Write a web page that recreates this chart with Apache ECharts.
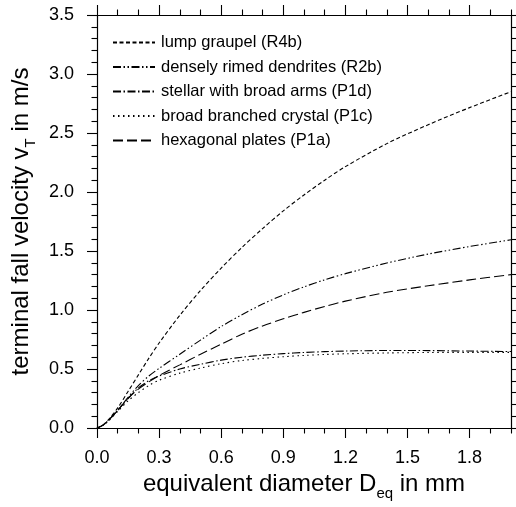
<!DOCTYPE html>
<html>
<head>
<meta charset="utf-8">
<script src="https://cdn.jsdelivr.net/npm/echarts@6/dist/echarts.min.js"></script>
<style>
html,body{margin:0;padding:0;background:#fff;}
#c{width:516px;height:507px;}
</style>
</head>
<body>
<div id="c"></div>
<script>
// Equivalent diameter (mm)
const diameters = [0, 0.025, 0.05, 0.1, 0.15, 0.2, 0.25, 0.3, 0.4, 0.5, 0.6, 0.7, 0.8, 0.9, 1.0, 1.1, 1.2, 1.4, 1.6, 1.8, 2.0];
// Terminal fall velocity (m/s)
const lumpGraupel   = [0, 0.02, 0.06, 0.17, 0.31, 0.45, 0.59, 0.72, 0.955, 1.165, 1.355, 1.53, 1.69, 1.84, 1.975, 2.10, 2.215, 2.41, 2.57, 2.715, 2.85];
const denselyRimed  = [0, 0.02, 0.055, 0.15, 0.26, 0.36, 0.44, 0.505, 0.625, 0.745, 0.86, 0.96, 1.05, 1.128, 1.196, 1.256, 1.308, 1.398, 1.474, 1.538, 1.595];
const stellarArms   = [0, 0.02, 0.055, 0.15, 0.25, 0.34, 0.40, 0.44, 0.50, 0.54, 0.575, 0.60, 0.617, 0.63, 0.64, 0.647, 0.652, 0.657, 0.656, 0.652, 0.648];
const broadBranched = [0, 0.02, 0.05, 0.14, 0.23, 0.30, 0.36, 0.405, 0.465, 0.508, 0.545, 0.572, 0.59, 0.604, 0.615, 0.623, 0.629, 0.636, 0.64, 0.641, 0.641];
const hexPlates     = [0, 0.02, 0.055, 0.15, 0.25, 0.33, 0.39, 0.445, 0.535, 0.625, 0.71, 0.795, 0.865, 0.925, 0.98, 1.03, 1.075, 1.15, 1.205, 1.255, 1.30];

const seriesNames = [
  'lump graupel (R4b)',
  'densely rimed dendrites (R2b)',
  'stellar with broad arms (P1d)',
  'broad branched crystal (P1c)',
  'hexagonal plates (P1a)'
];

// Tick values
const xMajorTicks = [0, 0.3, 0.6, 0.9, 1.2, 1.5, 1.8];
const xMinorTicks = [0.1, 0.2, 0.4, 0.5, 0.7, 0.8, 1.0, 1.1, 1.3, 1.4, 1.6, 1.7, 1.9, 2.0];
const yMajorTicks = [0, 0.5, 1.0, 1.5, 2.0, 2.5, 3.0, 3.5];
const yMinorTicks = [0.1,0.2,0.3,0.4,0.6,0.7,0.8,0.9,1.1,1.2,1.3,1.4,1.6,1.7,1.8,1.9,2.1,2.2,2.3,2.4,2.6,2.7,2.8,2.9,3.1,3.2,3.3,3.4];

const FONT = 'Liberation Sans, Arial, Helvetica, sans-serif';
const ink = '#000';

function pairs(ys){ return diameters.map((d,i)=>[d, ys[i]]); }

function xAx(pos, major, extra){
  return Object.assign({
    type:'value', position:pos, min:0, max:2.0, scale:false,
    axisLine:{show:major, onZero:false, lineStyle:{color:ink, width:1.2}},
    axisTick:{show:true, inside:false, length: major?10:5.5, lineStyle:{color:ink, width:1.1},
      customValues: major ? xMajorTicks : xMinorTicks},
    axisLabel:{show:false},
    splitLine:{show:false}
  }, extra||{});
}
function yAx(pos, major, extra){
  return Object.assign({
    type:'value', position:pos, min:0, max:3.5, scale:false,
    axisLine:{show:major, onZero:false, lineStyle:{color:ink, width:1.2}},
    axisTick:{show:true, inside:false, length: major?10:5.5, lineStyle:{color:ink, width:1.1},
      customValues: major ? yMajorTicks : yMinorTicks},
    axisLabel:{show:false},
    splitLine:{show:false}
  }, extra||{});
}

const chart = echarts.init(document.getElementById('c'), null, {renderer:'canvas'});

const styles = [
  [4, 2.5],
  [8, 2.5, 1.5, 2.5, 1.5, 2.5],
  [8, 2.5, 1.5, 2.5],
  [1.5, 3.5],
  [10, 4]
];
const datas = [lumpGraupel, denselyRimed, stellarArms, broadBranched, hexPlates];

const nameRich = {
  a:{fontFamily:FONT, fontSize:24, color:ink, lineHeight:27, verticalAlign:'top'},
  s:{fontFamily:FONT, fontSize:15, color:ink, lineHeight:16, verticalAlign:'top', padding:[14,0,0,0]}
};

const option = {
  animation:false,
  backgroundColor:'#fff',
  grid:{left:97, right:5, top:15, bottom:79, containLabel:false, outerBoundsMode:'none'},
  legend:{
    show:true, orient:'vertical', left:107, top:29, padding:5,
    itemWidth:42, itemHeight:14, itemGap:7.5,
    data:seriesNames,
    itemStyle:{opacity:0},
    textStyle:{fontFamily:FONT, fontSize:16.5, color:ink, padding:[0,0,0,1]},
    selectedMode:false
  },
  xAxis:[
    xAx('bottom', true, {
      axisLabel:{show:true, fontFamily:FONT, fontSize:18, color:ink, margin:21,
        customValues:xMajorTicks, formatter:(v)=>v.toFixed(1)},
      name:'{a|equivalent diameter D}{s|eq}{a| in mm}',
      nameLocation:'middle', nameGap:39,
      nameTextStyle:{fontFamily:FONT, color:ink, rich:nameRich}
    }),
    xAx('bottom', false),
    xAx('top', true),
    xAx('top', false)
  ],
  yAxis:[
    yAx('left', true, {
      axisLabel:{show:true, fontFamily:FONT, fontSize:18, color:ink, margin:23,
        customValues:yMajorTicks, formatter:(v)=>v.toFixed(1)},
      name:'{a|terminal fall velocity v}{s|T}{a| in m/s}',
      nameLocation:'middle', nameGap:54,
      nameTextStyle:{fontFamily:FONT, color:ink, rich:nameRich}
    }),
    yAx('left', false),
    yAx('right', true),
    yAx('right', false)
  ],
  series: seriesNames.map((name,i)=>({
    name:name, type:'line', xAxisIndex:0, yAxisIndex:0,
    data:pairs(datas[i]),
    showSymbol:false, symbol:'none',
    smooth:0.3,
    lineStyle:{color:ink, width:1.1, type:styles[i], cap:'butt'},
    itemStyle:{color:ink},
    emphasis:{disabled:true}
  }))
};
chart.setOption(option);
</script>
</body>
</html>
